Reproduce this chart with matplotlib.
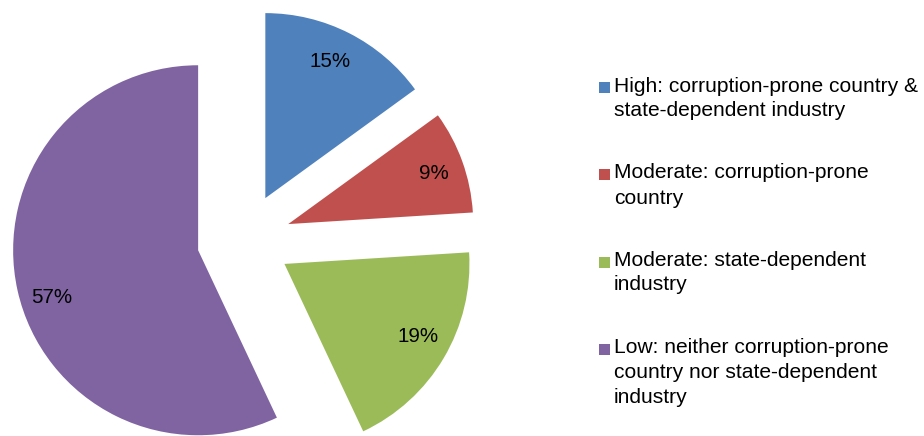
import matplotlib
matplotlib.use("Agg")
import matplotlib.pyplot as plt
from matplotlib.patches import Rectangle

# Risk categories and their share of cases (percent)
categories = [
    "High: corruption-prone country &\nstate-dependent industry",
    "Moderate: corruption-prone\ncountry",
    "Moderate: state-dependent\nindustry",
    "Low: neither corruption-prone\ncountry nor state-dependent\nindustry",
]
shares = [15, 9, 19, 57]
colors = ["#4F81BD", "#C0504D", "#9BBB59", "#8064A2"]

W, H = 924, 436
plt.rcParams["font.family"] = ["Liberation Sans", "DejaVu Sans"]

fig = plt.figure(figsize=(W / 100, H / 100), dpi=100)
ax = fig.add_axes([0, 0, 1, 1])

# Pie in pixel-like data units
radius = 185
explode_dist = 47
wedges, texts, autotexts = ax.pie(
    shares,
    colors=colors,
    center=(244, H - 240),
    radius=radius,
    explode=[explode_dist] * len(shares),
    startangle=90,
    counterclock=False,
    autopct="%.0f%%",
    pctdistance=0.82,
    textprops={"fontsize": 14.8, "color": "black"},
    wedgeprops={"linewidth": 0},
)

# small nudges of the percentage labels inside their wedges (pixels)
label_nudge = [(-4, 1), (3, -1), (3, 5), (2, -14)]
for t, (dx, dy) in zip(autotexts, label_nudge):
    x, y = t.get_position()
    t.set_position((x + dx, y + dy))

ax.set_xlim(0, W)
ax.set_ylim(0, H)
ax.set_aspect("equal")
ax.axis("off")

# Legend drawn entry by entry, square aligned with the first text line
legend_top = 88
legend_step = 87
for i, (label, col) in enumerate(zip(categories, colors)):
    yc = legend_top + i * legend_step
    fig.patches.append(
        Rectangle((599 / W, 1 - (yc + 5.5) / H), 11 / W, 11 / H,
                  transform=fig.transFigure, facecolor=col, edgecolor="none")
    )
    fig.text(614 / W, 1 - (yc - 11.5) / H, label, fontsize=15.1, va="top",
             ha="left", linespacing=1.4, color="black")

fig.savefig("out.png", dpi=100)
